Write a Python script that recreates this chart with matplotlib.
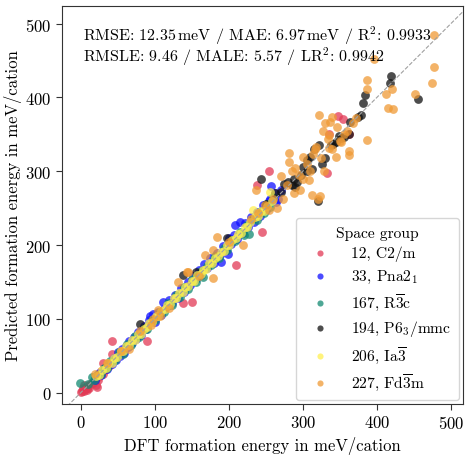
import matplotlib
matplotlib.use("Agg")
import matplotlib.pyplot as plt

plt.rcParams['font.family'] = 'serif'
plt.rcParams['font.serif'] = ['cmr10']
plt.rcParams['mathtext.fontset'] = 'cm'
plt.rcParams['axes.formatter.use_mathtext'] = True
plt.rcParams['axes.unicode_minus'] = False

# ---- data (DFT, predicted) in meV/cation ----
sg12_dft = [0, 2, 3, 5, 6, 8, 10, 12, 13, 15, 17, 18, 20, 21, 22, 23, 24, 26, 28, 30, 33, 36, 39, 42, 43, 30,
            90, 138, 151, 210, 245, 238, 254, 332, 336, 348, 354, 362, 5, 9]
sg12_pred = [1, 3, 6, 2, 5, 7, 9, 7, 12, 14, 13, 16, 17, 11, 8, 18, 22, 24, 30, 26, 31, 38, 37, 70, 53, 41,
             70, 122, 123, 173, 218, 281, 301, 297, 351, 375, 371, 350, 10, 4]

sg33_dft = [20, 25, 28, 33, 35, 38, 42, 45, 48, 50, 53, 56, 58, 61, 64, 66, 70, 72, 75, 78, 82, 85, 88, 92, 94,
            98, 100, 104, 108, 111, 113, 117, 120, 124, 128, 131, 135, 140, 145, 148, 152, 156, 160, 163, 167,
            171, 175, 180, 184, 188, 190, 192, 196, 199, 200, 203, 207, 208, 211, 215, 219, 222, 226, 230, 234,
            238, 242, 246, 250, 254, 256, 257, 262, 264, 266, 270]
sg33_pred = [18, 27, 24, 34, 32, 41, 39, 47, 44, 55, 50, 60, 54, 64, 62, 70, 67, 76, 73, 82, 79, 90, 86, 98, 104,
             107, 96, 110, 105, 123, 114, 118, 126, 121, 133, 128, 142, 137, 150, 146, 158, 154, 166, 160, 174,
             169, 182, 176, 190, 186, 177, 199, 193, 188, 210, 201, 214, 227, 208, 232, 216, 230, 224, 238, 232,
             245, 240, 254, 248, 260, 263, 280, 270, 258, 262, 275]

sg167_dft = [-1, 15, 10, 18, 22, 27, 31, 36, 40, 46, 52, 57, 63, 68, 74, 79, 85, 90, 96, 101, 107, 112, 118, 123,
             129, 134, 140, 145, 151, 156, 162, 165, 170, 176, 180, 182, 187, 193, 198, 204, 209, 215, 220, 225,
             228, 233, 238, 243, 248, 252, 256, 260]
sg167_pred = [13.5, 21, 12, 17, 24, 25, 33, 34, 43, 44, 55, 53, 66, 65, 77, 76, 88, 87, 99, 98, 110, 109, 121, 119,
              132, 130, 143, 141, 154, 150, 165, 157, 172, 173, 181, 185, 183, 196, 193, 207, 205, 218, 214, 227,
              215, 236, 234, 246, 243, 256, 252, 265]

sg194_dft = [80, 138, 156, 197, 243, 250, 262, 270, 274, 280, 285, 288, 290, 292, 298, 300, 305, 306, 310, 312,
             315, 320, 322, 326, 330, 338, 341, 345, 349, 352, 355, 363, 364, 374, 378, 381, 384, 418, 419, 455]
sg194_pred = [93, 160, 163, 209, 289, 256, 270, 272, 283, 286, 281, 290, 279, 285, 295, 306, 315, 300, 320, 303,
              330, 260, 335, 310, 318, 336, 337, 340, 348, 345, 347, 351, 367, 374, 376, 393, 403, 420, 429, 398]

sg206_dft = [21, 25, 29, 34, 37, 42, 45, 49, 54, 57, 61, 66, 69, 73, 78, 81, 85, 90, 93, 97, 102, 105, 109, 114,
             117, 121, 126, 129, 133, 138, 141, 145, 150, 153, 157, 162, 165, 169, 174, 177, 181, 186, 189, 193,
             198, 201, 205, 210, 213, 217, 222, 225, 229, 233, 236, 240, 244, 247, 251, 256, 259]
sg206_pred = [23, 24, 31, 33, 40, 41, 47, 48, 56, 56, 63, 65, 71, 72, 80, 80, 87, 89, 95, 96, 104, 104, 111, 113,
              119, 120, 128, 128, 135, 137, 143, 144, 152, 152, 159, 161, 167, 168, 176, 176, 183, 185, 191, 192,
              200, 200, 207, 209, 215, 216, 224, 224, 231, 247, 238, 239, 246, 246, 253, 272, 260]

sg227_dft = [20, 35, 55, 65, 80, 95, 98, 105, 107, 120, 131, 143, 145, 160, 168, 179, 179, 184, 200, 219, 230,
             237, 240, 249, 255, 260, 265, 270, 273, 278, 282, 282, 285, 288, 290, 295, 296, 300, 300, 305, 308,
             310, 312, 314, 316, 318, 321, 322, 323, 325, 327, 328, 330, 334, 335, 336, 337, 339, 340, 345, 346,
             350, 352, 356, 360, 362, 362, 368, 372, 386, 386, 386, 396, 412, 415, 420, 422, 451, 474, 477, 477]
sg227_pred = [25, 40, 57, 60, 84, 92, 100, 112, 104, 115, 150, 163, 164, 158, 186, 193, 155, 211, 204, 200, 236,
              274, 243, 255, 248, 262, 250, 294, 263, 282, 313, 325, 300, 270, 305, 295, 275, 290, 320, 310, 288,
              300, 268, 324, 330, 333, 263, 376, 267, 318, 355, 300, 365, 344, 332, 349, 367, 374, 330, 320, 360,
              341, 339, 350, 355, 327, 322, 365, 372, 342, 411, 424, 452, 405, 386, 412, 385, 404, 419, 441, 485]

groups = [
    (sg12_dft, sg12_pred, '12, C2/m', '#e23a55'),
    (sg33_dft, sg33_pred, r'33, Pna2$_1$', '#1010ff'),
    (sg167_dft, sg167_pred, r'167, R$\overline{3}$c', '#138a72'),
    (sg194_dft, sg194_pred, r'194, P6$_3$/mmc', '#111111'),
    (sg206_dft, sg206_pred, r'206, Ia$\overline{3}$', '#fff050'),
    (sg227_dft, sg227_pred, r'227, Fd$\overline{3}$m', '#f09a35'),
]

fig = plt.figure(figsize=(4.67, 4.56), dpi=100)
ax = fig.add_axes([0.132, 0.112, 0.859, 0.873])

for xd, yd, lab, col in groups:
    ax.scatter(xd, yd, s=40, c=col, alpha=0.75, linewidths=0, label=lab, zorder=2)

ax.plot([-100, 600], [-100, 600], ls='--', color='#a0a0a0', lw=0.8, zorder=3)

ax.set_xlim(-25.6, 516)
ax.set_ylim(-15, 524)
ax.set_xticks([0, 100, 200, 300, 400, 500])
ax.set_yticks([0, 100, 200, 300, 400, 500])
ax.tick_params(labelsize=12, length=4, color='#333333')
for sp in ax.spines.values():
    sp.set_color('#333333')

ax.set_xlabel('DFT formation energy in meV/cation', fontsize=12, labelpad=3)
ax.set_ylabel('Predicted formation energy in meV/cation', fontsize=12, labelpad=2)

ax.text(0.052, 0.927, r'RMSE: 12.35$\,$meV / MAE: 6.97$\,$meV / R$^2$: 0.9933', transform=ax.transAxes,
        fontsize=11.5, va='center', ha='left')
ax.text(0.052, 0.874, r'RMSLE: 9.46 / MALE: 5.57 / LR$^2$: 0.9942', transform=ax.transAxes,
        fontsize=11.5, va='center', ha='left')

leg = ax.legend(title='Space group', loc='lower right', fontsize=11.2, title_fontsize=11.2,
                markerscale=0.7, labelspacing=0.4, borderaxespad=0.25, handletextpad=1.0,
                borderpad=0.5)

fig.savefig('out.png', dpi=100)
